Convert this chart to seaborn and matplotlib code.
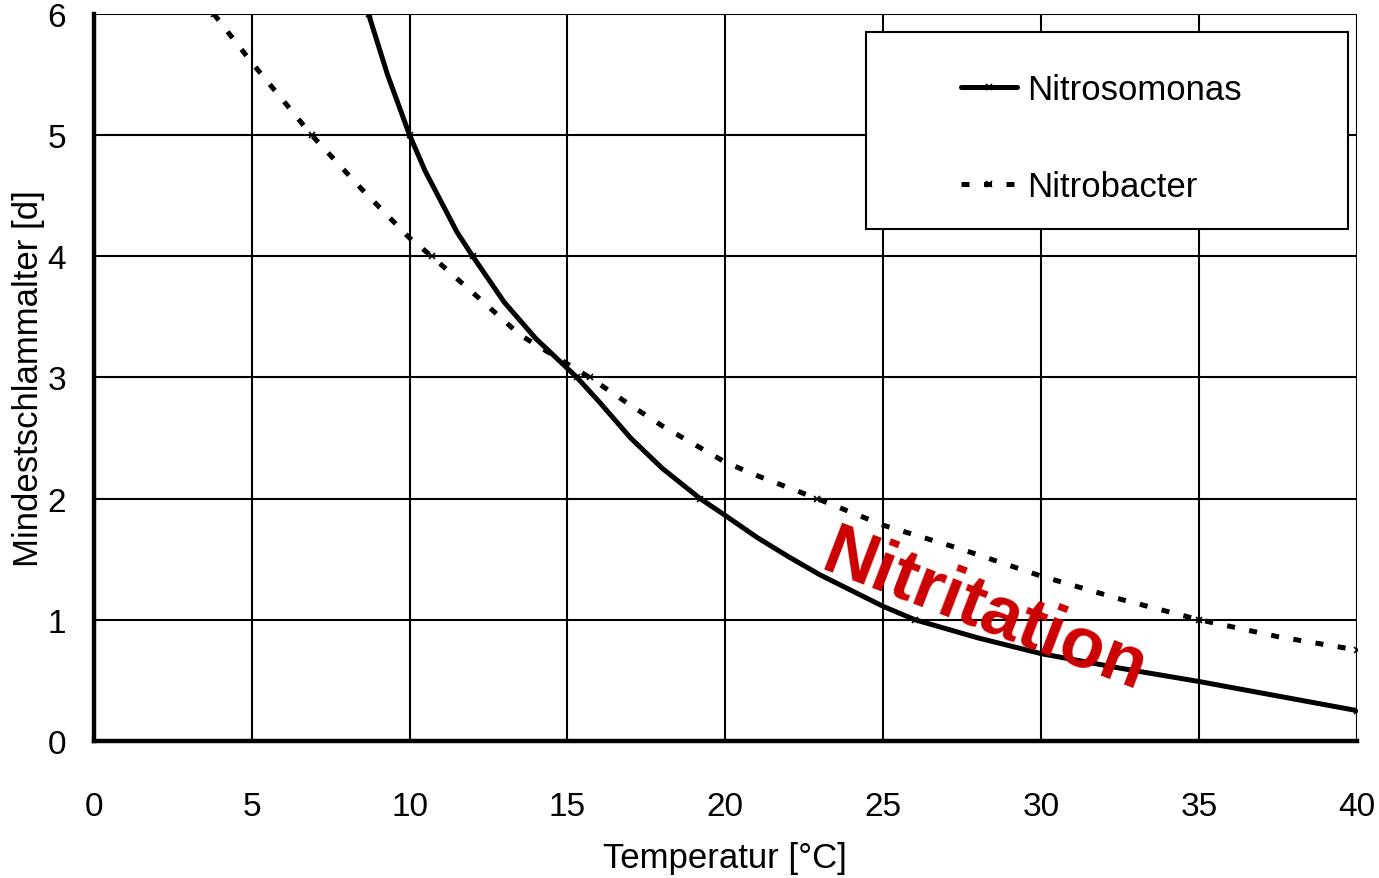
import matplotlib
matplotlib.use("Agg")
import matplotlib.pyplot as plt
from matplotlib.patches import Rectangle
import pandas as pd
import seaborn as sns

# values
nitrosomonas_t = [8.7, 9.3, 10.0, 10.5, 11.0, 11.5, 12.0, 13.0, 14.0, 15.3, 16.0,
                  17.0, 18.0, 19.2, 20.0, 21.0, 22.0, 23.0, 24.0, 25.0, 26.0,
                  28.0, 30.0, 32.5, 35.0, 37.5, 40.0]
nitrosomonas_y = [6.0, 5.5, 5.0, 4.7, 4.45, 4.2, 4.0, 3.62, 3.32, 3.0, 2.8,
                  2.5, 2.25, 2.0, 1.86, 1.68, 1.52, 1.37, 1.24, 1.11, 1.0,
                  0.85, 0.72, 0.6, 0.49, 0.37, 0.25]
nitrosomonas_marks = [0, 2, 6, 9, 13, 20, 26]

nitrobacter_t = [3.8, 5.0, 6.9, 8.5, 10.0, 10.7, 12.0, 13.5, 15.7, 17.0, 18.0,
                 20.0, 21.0, 22.9, 25.0, 27.5, 30.0, 32.5, 35.0, 37.5, 40.0]
nitrobacter_y = [6.0, 5.6, 5.0, 4.55, 4.15, 4.0, 3.7, 3.35, 3.0, 2.77, 2.6,
                 2.3, 2.19, 2.0, 1.78, 1.58, 1.36, 1.17, 1.0, 0.86, 0.75]
nitrobacter_marks = [0, 2, 5, 8, 13, 18, 20]

x_ticks = [0, 5, 10, 15, 20, 25, 30, 35, 40]
y_ticks = [0, 1, 2, 3, 4, 5, 6]

sns.set_style("white")
plt.rcParams["font.family"] = ["Liberation Sans", "DejaVu Sans"]
plt.rcParams["text.color"] = "black"
plt.rcParams["axes.labelcolor"] = "black"
plt.rcParams["xtick.color"] = "black"
plt.rcParams["ytick.color"] = "black"

fig = plt.figure(figsize=(13.79, 8.79), dpi=100)
ax = fig.add_axes([0.068, 0.156, 0.916, 0.827])

df_a = pd.DataFrame({"t": nitrosomonas_t, "y": nitrosomonas_y})
df_b = pd.DataFrame({"t": nitrobacter_t, "y": nitrobacter_y})

sns.lineplot(data=df_a, x="t", y="y", ax=ax, color="black", linewidth=3.6,
             marker="x", markersize=5, markeredgewidth=1.2,
             markeredgecolor="black", markevery=nitrosomonas_marks,
             label="Nitrosomonas", sort=False, zorder=3)
sns.lineplot(data=df_b, x="t", y="y", ax=ax, color="black", linewidth=3.6,
             linestyle=(0, (1.6, 2.9)), marker="x", markersize=5,
             markeredgewidth=1.2, markeredgecolor="black",
             markevery=nitrobacter_marks, label="Nitrobacter", sort=False,
             zorder=3)
for line in ax.get_lines():
    line.set_dash_capstyle("butt")
    line.set_solid_joinstyle("round")

ax.set_xlim(0, 40)
ax.set_ylim(0, 6)
ax.set_xticks(x_ticks)
ax.set_yticks(y_ticks)
ax.grid(True, color="black", linewidth=1.5)
ax.set_axisbelow(True)

for side in ("top", "right"):
    ax.spines[side].set_visible(False)
for side in ("left", "bottom"):
    ax.spines[side].set_linewidth(3.2)
    ax.spines[side].set_color("black")

ax.tick_params(axis="x", direction="out", length=6, width=3, pad=30,
               labelsize=24)
ax.tick_params(axis="y", direction="out", length=6, width=3, pad=14,
               labelsize=24)

ax.set_xlabel("Temperatur [°C]", fontsize=25, labelpad=14)
ax.set_ylabel("Mindestschlammalter [d]", fontsize=25, labelpad=2)

ax.text(28.2, 1.07, "Nitritation", color="#CC0000", fontsize=52,
        fontweight="bold", rotation=-21, ha="center", va="center", zorder=5)

# legend box
ax.add_patch(Rectangle((0.611, 0.704), 0.382, 0.271, transform=ax.transAxes,
                       facecolor="white", edgecolor="black", linewidth=1.5,
                       zorder=6))
leg = ax.legend(loc="center left", bbox_to_anchor=(0.673, 0.829),
                frameon=False, fontsize=25, borderpad=0, handlelength=1.6,
                handletextpad=0.3, labelspacing=1.85)
leg.set_zorder(7)

fig.savefig("out.png", dpi=100)
